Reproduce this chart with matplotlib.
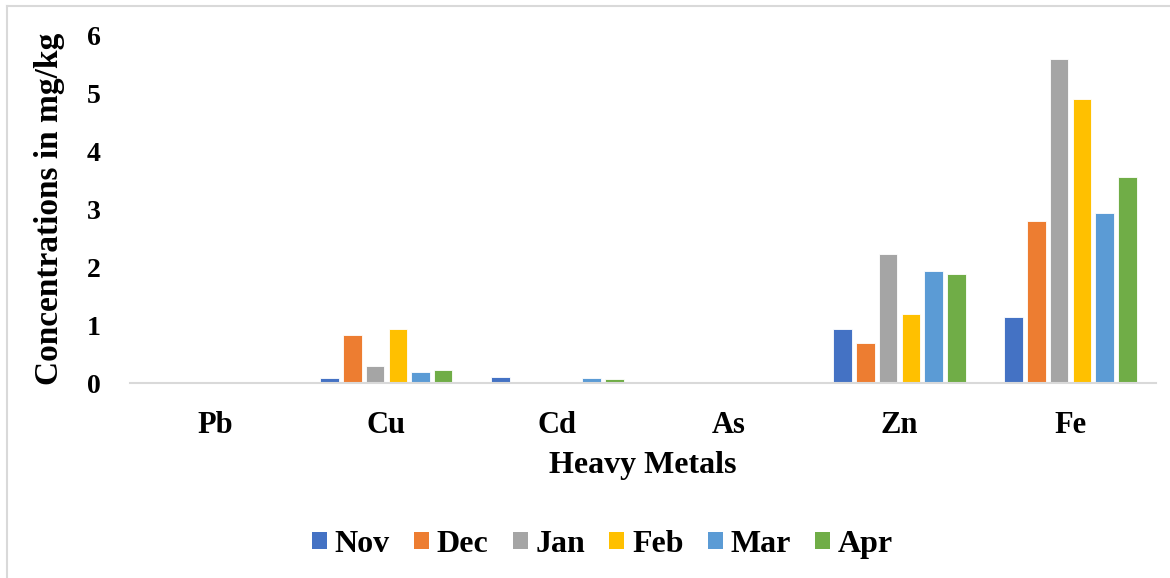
import numpy as np
import matplotlib.pyplot as plt
from matplotlib.lines import Line2D

plt.rcParams['font.family'] = ['Liberation Serif', 'DejaVu Serif']
plt.rcParams['font.weight'] = 'bold'

metals = ['Pb', 'Cu', 'Cd', 'As', 'Zn', 'Fe']
months = ['Nov', 'Dec', 'Jan', 'Feb', 'Mar', 'Apr']
nov = [0.0, 0.09, 0.10, 0.0, 0.94, 1.14]
dec = [0.0, 0.83, 0.0, 0.0, 0.70, 2.80]
jan = [0.0, 0.29, 0.02, 0.0, 2.22, 5.59]
feb = [0.0, 0.93, 0.01, 0.0, 1.20, 4.90]
mar = [0.0, 0.19, 0.09, 0.0, 1.93, 2.94]
apr = [0.0, 0.22, 0.07, 0.0, 1.88, 3.56]
colors = ['#4472C4', '#ED7D31', '#A5A5A5', '#FFC000', '#5B9BD5', '#70AD47']

fig = plt.figure(figsize=(11.7, 5.78), dpi=100)
ax = fig.add_axes([0.111, 0.337, 0.877, 0.602])

x = np.arange(len(metals))
step = 0.133
width = 0.108
for i, vals in enumerate([nov, dec, jan, feb, mar, apr]):
    ax.bar(x + (i - 2.5) * step, vals, width=width, color=colors[i],
           edgecolor='white', linewidth=0.6, label=months[i], zorder=2)

ax.set_xlim(-0.5, len(metals) - 0.5)
ax.set_ylim(0, 6)
ax.set_yticks(range(7))
ax.set_xticks(x)
ax.set_xticklabels(metals)
ax.tick_params(axis='both', length=0)
ax.tick_params(axis='y', labelsize=20, pad=21)
ax.tick_params(axis='x', labelsize=22, pad=20)

for s in ['top', 'right', 'left']:
    ax.spines[s].set_visible(False)
ax.spines['bottom'].set_color('#D9D9D9')
ax.spines['bottom'].set_linewidth(1.5)
ax.spines['bottom'].set_zorder(3)

ax.set_ylabel('Concentrations in mg/kg', fontsize=24, fontweight='bold', labelpad=16)
ax.set_xlabel('Heavy Metals', fontsize=23, fontweight='bold', labelpad=8)

leg = fig.legend(loc='center', bbox_to_anchor=(0.515, 0.058), ncol=6, frameon=False,
                 fontsize=23, handlelength=0.47, handleheight=0.47,
                 handletextpad=0.25, columnspacing=0.75)
for h in leg.legend_handles:
    h.set_edgecolor('none')

# chart frame (top and left edges)
fig.add_artist(Line2D([7 / 1170, 1.0], [1 - 6 / 578, 1 - 6 / 578],
                      color='#D9D9D9', linewidth=1.5, transform=fig.transFigure))
fig.add_artist(Line2D([7 / 1170, 7 / 1170], [0.0, 1 - 6 / 578],
                      color='#D9D9D9', linewidth=1.5, transform=fig.transFigure))

plt.savefig('out.png', dpi=100)
